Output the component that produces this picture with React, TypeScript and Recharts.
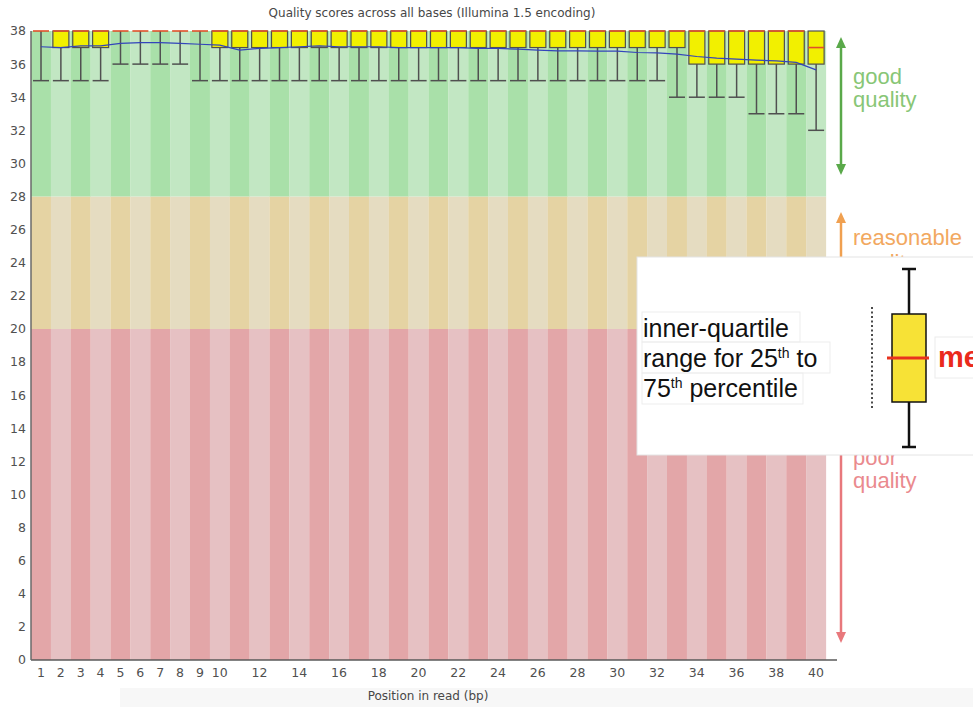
import { ComposedChart, Bar, Line, XAxis, YAxis, Cell } from "recharts";

// Per-base quality (Phred) summary for read positions 1..40
const positions = [
  "1", "2", "3", "4", "5", "6", "7", "8", "9", "10",
  "11", "12", "13", "14", "15", "16", "17", "18", "19", "20",
  "21", "22", "23", "24", "25", "26", "27", "28", "29", "30",
  "31", "32", "33", "34", "35", "36", "37", "38", "39", "40",
];

const tickLabels = [
  "1", "2", "3", "4", "5", "6", "7", "8", "9", "10",
  "12", "14", "16", "18", "20", "22", "24", "26", "28", "30",
  "32", "34", "36", "38", "40",
];

const yTicks = [0, 2, 4, 6, 8, 10, 12, 14, 16, 18, 20, 22, 24, 26, 28, 30, 32, 34, 36, 38];

// 10th percentile
const whiskerLow = [
  35, 35, 35, 35, 36, 36, 36, 36, 35, 35,
  35, 35, 35, 35, 35, 35, 35, 35, 35, 35,
  35, 35, 35, 35, 35, 35, 35, 35, 35, 35,
  35, 35, 34, 34, 34, 34, 33, 33, 33, 32,
];

// 90th percentile
const whiskerHigh = [
  38, 38, 38, 38, 38, 38, 38, 38, 38, 38,
  38, 38, 38, 38, 38, 38, 38, 38, 38, 38,
  38, 38, 38, 38, 38, 38, 38, 38, 38, 38,
  38, 38, 38, 38, 38, 38, 38, 38, 38, 38,
];

const lowerQuartile = [
  38, 37, 37, 37, 38, 38, 38, 38, 38, 37,
  37, 37, 37, 37, 37, 37, 37, 37, 37, 37,
  37, 37, 37, 37, 37, 37, 37, 37, 37, 37,
  37, 37, 37, 36, 36, 36, 36, 36, 36, 36,
];

const upperQuartile = [
  38, 38, 38, 38, 38, 38, 38, 38, 38, 38,
  38, 38, 38, 38, 38, 38, 38, 38, 38, 38,
  38, 38, 38, 38, 38, 38, 38, 38, 38, 38,
  38, 38, 38, 38, 38, 38, 38, 38, 38, 38,
];

const medians = [
  38, 38, 38, 38, 38, 38, 38, 38, 38, 38,
  38, 38, 38, 38, 38, 38, 38, 38, 38, 38,
  38, 38, 38, 38, 38, 38, 38, 38, 38, 38,
  38, 38, 38, 38, 38, 38, 38, 38, 38, 37,
];

const means = [
  37.05, 37.0, 37.1, 37.1, 37.25, 37.3, 37.3, 37.25, 37.2, 37.15,
  36.85, 36.95, 37.0, 37.05, 37.1, 37.05, 37.05, 37.05, 37.0, 37.0,
  37.0, 37.0, 36.95, 36.95, 36.9, 36.85, 36.8, 36.8, 36.78, 36.78,
  36.7, 36.68, 36.6, 36.46, 36.36, 36.3, 36.24, 36.2, 36.1, 35.65,
];

// poor / reasonable / good quality bands
const zoneEdges = [0, 20, 28, 38];

const zoneColors = {
  poor: ["#e3a6a8", "#e6c1c3"],
  fair: ["#e5d3a3", "#e5dcc1"],
  good: ["#a9e0a9", "#c2e7c3"],
};

const rows = positions.map((pos, i) => ({
  pos,
  poor: zoneEdges[1] - zoneEdges[0],
  fair: zoneEdges[2] - zoneEdges[1],
  good: zoneEdges[3] - zoneEdges[2],
  whisker: [whiskerLow[i], whiskerHigh[i]],
  box: [lowerQuartile[i], upperQuartile[i]],
  median: medians[i],
  mean: means[i],
}));

const axisFont = { fontFamily: "DejaVu Sans", fontSize: 12.5, fill: "#505050" };
const xPadding = { left: 0, right: 11 };

function WhiskerShape(props: any) {
  const { x, y, width, height } = props;
  const top = Math.min(y, y + height);
  const bottom = Math.max(y, y + height);
  const cx = x + width / 2;
  return (
    <g stroke="#505050" strokeWidth={1.5}>
      <line x1={cx} x2={cx} y1={top} y2={bottom} />
      <line x1={x} x2={x + width} y1={bottom} y2={bottom} />
    </g>
  );
}

function BoxShape(props: any) {
  const { x, y, width, height, payload } = props;
  const top = Math.min(y, y + height);
  const h = Math.abs(height);
  const [q1, q3] = payload.box;
  const medianY = q3 > q1 ? top + ((q3 - payload.median) / (q3 - q1)) * h : top;
  return (
    <g>
      {h > 0 && (
        <rect x={x} y={top} width={width} height={h} fill="#f2f000" stroke="#505050" strokeWidth={1.2} />
      )}
      <line x1={x} x2={x + width} y1={medianY} y2={medianY} stroke="#e0502a" strokeWidth={1.6} />
    </g>
  );
}

function Arrow({ x, y1, y2, color, up, down }: any) {
  return (
    <g>
      <line x1={x} x2={x} y1={y1 + (up ? 8 : 0)} y2={y2 - (down ? 8 : 0)} stroke={color} strokeWidth={2.5} />
      {up && <polygon points={`${x},${y1} ${x - 5},${y1 + 11} ${x + 5},${y1 + 11}`} fill={color} />}
      {down && <polygon points={`${x},${y2} ${x - 5},${y2 - 11} ${x + 5},${y2 - 11}`} fill={color} />}
    </g>
  );
}

function Annotations() {
  const side = { fontFamily: "Liberation Sans", fontSize: 22 };
  const body = { fontFamily: "Liberation Sans", fontSize: 25, fill: "#111" };
  return (
    <svg
      width={973}
      height={707}
      style={{ position: "absolute", left: 0, top: 0, pointerEvents: "none" }}
    >
      <text x={432} y={17} textAnchor="middle" fontFamily="DejaVu Sans" fontSize={12} fill="#474747">
        Quality scores across all bases (Illumina 1.5 encoding)
      </text>
      <text x={428} y={700} textAnchor="middle" fontFamily="DejaVu Sans" fontSize={12} fill="#474747">
        Position in read (bp)
      </text>

      <Arrow x={841} y1={37} y2={175} color="#5aa94a" up down />
      <text x={853} y={84} fill="#88c676" {...side}>good</text>
      <text x={853} y={107} fill="#88c676" {...side}>quality</text>

      <Arrow x={841} y1={212} y2={300} color="#f0a050" up />
      <text x={853} y={245} fill="#f2a860" {...side}>reasonable</text>
      <text x={853} y={270} fill="#f2a860" {...side}>quality</text>

      <Arrow x={841} y1={430} y2={643} color="#e8787c" down />
      <text x={853} y={465} fill="#ea8a8e" {...side}>poor</text>
      <text x={853} y={488} fill="#ea8a8e" {...side}>quality</text>

      {/* box plot key */}
      <rect x={637} y={257} width={345} height={198} fill="#fff" stroke="#e4e4e4" />
      <rect x={642} y={312} width={158} height={30} fill="none" stroke="#ededed" />
      <rect x={642} y={342} width={188} height={31} fill="none" stroke="#ededed" />
      <rect x={642} y={373} width={161} height={31} fill="none" stroke="#ededed" />
      <text x={643} y={337} {...body}>inner-quartile</text>
      <text x={643} y={367} {...body}>
        range for 25
        <tspan fontSize={14} dy={-9}>th</tspan>
        <tspan dy={9}> to</tspan>
      </text>
      <text x={643} y={397} {...body}>
        75
        <tspan fontSize={14} dy={-9}>th</tspan>
        <tspan dy={9}> percentile</tspan>
      </text>

      <line x1={872} x2={872} y1={307} y2={410} stroke="#111" strokeWidth={1.5} strokeDasharray="2 2.5" />
      <g stroke="#111" strokeWidth={2.5}>
        <line x1={909} x2={909} y1={269} y2={314} />
        <line x1={902} x2={916} y1={269} y2={269} />
        <line x1={909} x2={909} y1={402} y2={447} />
        <line x1={902} x2={916} y1={447} y2={447} />
      </g>
      <rect x={892} y={314} width={34} height={88} fill="#f7e236" stroke="#111" strokeWidth={1.5} />
      <line x1={887} x2={929} y1={358} y2={358} stroke="#e8321e" strokeWidth={3} />
      <rect x={935} y={337} width={60} height={41} fill="#fff" stroke="#ececec" />
      <text x={938} y={367} fontFamily="Liberation Sans" fontSize={29} fontWeight="bold" fill="#ea2a1c">
        median
      </text>
    </svg>
  );
}

export default function App() {
  return (
    <div style={{ position: "absolute", left: 0, top: 0, width: 973, height: 707, background: "#fff" }}>
      <div style={{ position: "absolute", left: 120, top: 688, width: 853, height: 19, background: "#f7f7f7" }} />
      <ComposedChart
        width={973}
        height={707}
        data={rows}
        margin={{ top: 31, right: 136, bottom: 17, left: 0 }}
        barCategoryGap={0}
        barGap={0}
        style={{ position: "absolute", left: 0, top: 0 }}
      >
        <XAxis
          xAxisId="pos"
          dataKey="pos"
          height={30}
          padding={xPadding}
          interval={0}
          tickLine={false}
          tickSize={4}
          tickMargin={4}
          tick={axisFont}
          axisLine={{ stroke: "#5a5a5a", strokeWidth: 1.5 }}
          tickFormatter={(v: string) => (tickLabels.includes(v) ? v : "")}
        />
        <XAxis xAxisId="whisker" dataKey="pos" hide height={0} padding={xPadding} />
        <XAxis xAxisId="box" dataKey="pos" hide height={0} padding={xPadding} />
        <YAxis
          domain={[0, 38]}
          ticks={yTicks}
          width={31}
          interval={0}
          tickLine={false}
          tickSize={3}
          tickMargin={2}
          tick={axisFont}
          axisLine={{ stroke: "#6a6a6a", strokeWidth: 1.5 }}
        />

        <Bar xAxisId="pos" dataKey="poor" stackId="zone" isAnimationActive={false}>
          {rows.map((_, i) => (
            <Cell key={i} fill={zoneColors.poor[i % 2]} />
          ))}
        </Bar>
        <Bar xAxisId="pos" dataKey="fair" stackId="zone" isAnimationActive={false}>
          {rows.map((_, i) => (
            <Cell key={i} fill={zoneColors.fair[i % 2]} />
          ))}
        </Bar>
        <Bar xAxisId="pos" dataKey="good" stackId="zone" isAnimationActive={false}>
          {rows.map((_, i) => (
            <Cell key={i} fill={zoneColors.good[i % 2]} />
          ))}
        </Bar>

        <Bar xAxisId="whisker" dataKey="whisker" barSize={16} shape={WhiskerShape} isAnimationActive={false} />
        <Bar xAxisId="box" dataKey="box" barSize={16} shape={BoxShape} isAnimationActive={false} />

        <Line
          xAxisId="pos"
          dataKey="mean"
          type="linear"
          stroke="#3344bb"
          strokeWidth={1.2}
          dot={false}
          isAnimationActive={false}
        />
      </ComposedChart>
      <Annotations />
    </div>
  );
}
